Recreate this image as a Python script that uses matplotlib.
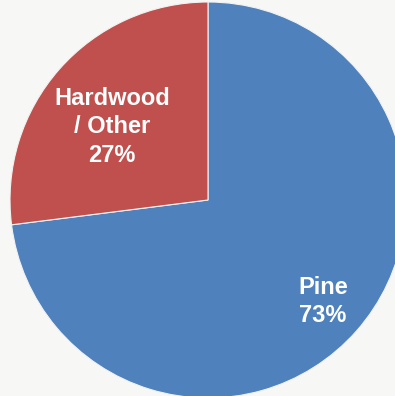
import numpy as np
import matplotlib.pyplot as plt

labels = ['Pine', 'Hardwood\n/ Other']
shares = [73, 27]
colors = ['#4F81BD', '#C0504D']

fig = plt.figure(figsize=(3.95, 3.96), dpi=100)
fig.patch.set_facecolor('#F7F7F5')
ax = fig.add_axes([0, 0, 1, 1])
ax.set_facecolor('#F7F7F5')

cx, cy, r = 208, 196, 198
wedges, _ = ax.pie(shares, colors=colors, startangle=90, counterclock=False,
                   center=(cx, cy), radius=r,
                   wedgeprops=dict(edgecolor='#F2F2F2', linewidth=0.8))

# label spot per wedge: (fraction of radius, angle nudge in degrees)
spots = [(0.775, 0), (0.61, 4)]
for w, lab, val, (d, nudge) in zip(wedges, labels, shares, spots):
    mid = np.deg2rad((w.theta1 + w.theta2) / 2 + nudge)
    ax.text(cx + d * r * np.cos(mid), cy + d * r * np.sin(mid),
            '%s\n%d%%' % (lab, val), ha='center', va='center',
            color='white', fontsize=17, fontweight='bold',
            family='Liberation Sans', linespacing=1.3)

ax.set_xlim(0, 395)
ax.set_ylim(0, 396)
ax.set_aspect('equal')
ax.axis('off')

plt.savefig('out.png', dpi=100, facecolor=fig.get_facecolor())
